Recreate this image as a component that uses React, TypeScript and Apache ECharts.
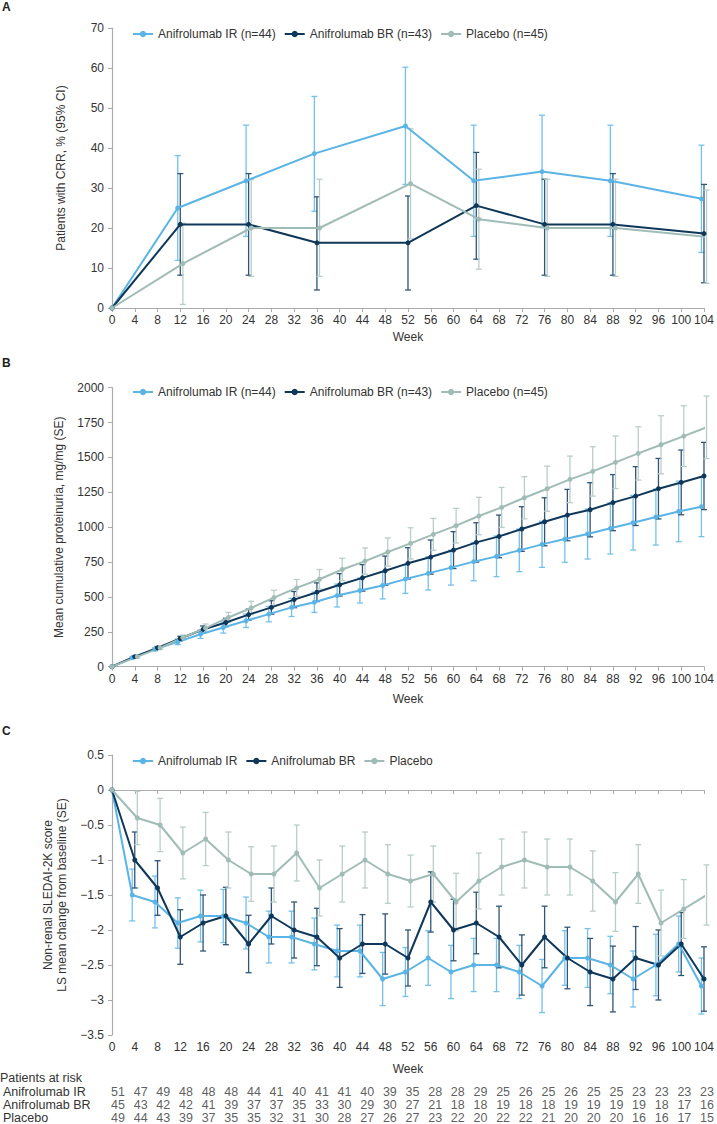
import React, { useEffect, useRef } from 'react';
import * as echarts from 'echarts';

// ---------- Panel A: CRR ----------
const weeksA = [0, 12, 24, 36, 52, 64, 76, 88, 104];
const crrIR = [0, 25.0, 31.8, 38.6, 45.5, 31.8, 34.1, 31.8, 27.3];
const crrIRlo = [0, 11.9, 17.9, 24.2, 30.9, 17.9, 20.1, 17.9, 13.9];
const crrIRhi = [0, 38.1, 45.7, 52.9, 60.2, 45.7, 48.2, 45.7, 40.7];
const crrBR = [0, 20.9, 20.9, 16.3, 16.3, 25.6, 20.9, 20.9, 18.6];
const crrBRlo = [0, 8.2, 8.2, 4.5, 4.5, 12.2, 8.2, 8.2, 6.3];
const crrBRhi = [0, 33.6, 33.6, 27.8, 28.0, 38.9, 32.2, 33.6, 30.9];
const crrPL = [0, 11.1, 20.0, 20.0, 31.1, 22.2, 20.0, 20.0, 17.8];
const crrPLlo = [0, 0.9, 7.9, 7.9, 17.3, 9.7, 7.9, 7.9, 6.2];
const crrPLhi = [0, 21.2, 32.1, 32.2, 44.8, 34.7, 32.2, 32.2, 29.5];

// ---------- Panels B & C: every 4 weeks ----------
const weeks = [0, 4, 8, 12, 16, 20, 24, 28, 32, 36, 40, 44, 48, 52, 56, 60, 64, 68, 72, 76, 80, 84, 88, 92, 96, 100, 104];

const protIR = [0, 65, 125, 178, 233, 281, 329, 377, 425, 462, 510, 546, 582, 628, 669, 710, 753, 791, 834, 877, 915, 951, 992, 1032, 1073, 1113, 1147];
const protIRse = [0, 6, 10, 20, 30, 40, 48, 55, 65, 73, 82, 90, 96, 102, 119, 125, 137, 146, 153, 165, 167, 179, 184, 196, 201, 217, 215];
const protBR = [0, 72, 135, 202, 267, 317, 373, 425, 481, 534, 587, 637, 688, 741, 786, 836, 891, 934, 987, 1039, 1087, 1125, 1176, 1223, 1276, 1321, 1367];
const protBRse = [0, 6, 10, 16, 25, 30, 40, 48, 58, 67, 80, 95, 105, 112, 122, 132, 141, 153, 160, 172, 184, 194, 201, 211, 217, 232, 241];
const protPL = [0, 72, 135, 209, 276, 353, 421, 495, 565, 627, 697, 757, 822, 884, 949, 1011, 1080, 1142, 1211, 1276, 1343, 1400, 1465, 1529, 1591, 1653, 1716];
const protPLse = [0, 6, 10, 18, 30, 36, 48, 53, 60, 70, 80, 94, 101, 112, 114, 124, 134, 143, 151, 162, 167, 177, 188, 191, 208, 218, 224];

const sledIR = [0, -1.5, -1.6, -1.9, -1.8, -1.8, -1.9, -2.1, -2.1, -2.2, -2.3, -2.3, -2.7, -2.6, -2.4, -2.6, -2.5, -2.5, -2.6, -2.8, -2.4, -2.4, -2.5, -2.7, -2.5, -2.2, -2.8];
const sledIRse = [0, 0.37, 0.37, 0.36, 0.37, 0.38, 0.37, 0.37, 0.37, 0.37, 0.37, 0.37, 0.38, 0.35, 0.39, 0.38, 0.38, 0.38, 0.38, 0.38, 0.39, 0.42, 0.41, 0.4, 0.44, 0.4, 0.4];
const sledBR = [0, -1.0, -1.4, -2.1, -1.9, -1.8, -2.2, -1.8, -2.0, -2.1, -2.4, -2.2, -2.2, -2.4, -1.6, -2.0, -1.9, -2.1, -2.5, -2.1, -2.4, -2.6, -2.7, -2.4, -2.5, -2.2, -2.7];
const sledBRse = [0, 0.4, 0.39, 0.39, 0.4, 0.41, 0.41, 0.4, 0.4, 0.41, 0.42, 0.42, 0.43, 0.4, 0.43, 0.44, 0.44, 0.44, 0.43, 0.44, 0.44, 0.48, 0.47, 0.45, 0.5, 0.45, 0.46];
const sledPL = [0, -0.4, -0.5, -0.9, -0.7, -1.0, -1.2, -1.2, -0.9, -1.4, -1.2, -1.0, -1.2, -1.3, -1.2, -1.6, -1.3, -1.1, -1.0, -1.1, -1.1, -1.3, -1.6, -1.2, -1.9, -1.7, -1.5];
const sledPLse = [0, 0.38, 0.38, 0.37, 0.38, 0.4, 0.39, 0.4, 0.4, 0.4, 0.4, 0.4, 0.42, 0.37, 0.4, 0.41, 0.4, 0.4, 0.4, 0.4, 0.4, 0.43, 0.42, 0.42, 0.47, 0.42, 0.43];

// ---------- Patients at risk ----------
const riskRows = ['Anifrolumab IR', 'Anifrolumab BR', 'Placebo'];
const riskIR = [51, 47, 49, 48, 48, 48, 44, 41, 40, 41, 41, 40, 39, 35, 28, 28, 29, 25, 26, 25, 26, 25, 25, 23, 23, 23, 23];
const riskBR = [45, 43, 42, 42, 41, 39, 37, 37, 35, 33, 30, 29, 30, 27, 21, 18, 18, 19, 18, 18, 19, 19, 19, 19, 18, 17, 16];
const riskPL = [49, 44, 43, 39, 37, 35, 35, 32, 31, 30, 28, 27, 26, 27, 23, 22, 20, 22, 22, 21, 20, 20, 20, 16, 16, 17, 15];

const namesAB = ['Anifrolumab IR (n=44)', 'Anifrolumab BR (n=43)', 'Placebo (n=45)'];
const namesC = ['Anifrolumab IR', 'Anifrolumab BR', 'Placebo'];

const COL = ['#5ab4e6', '#0f375a', '#a0bcb6'];
const ERRCOL = ['#74c1ec', '#2f5577', '#b9cec9'];
const OFF = [-0.45, 0, 0.45];
const FONT = 'Liberation Sans, Arial, sans-serif';
const AXC = '#a9adb0';
const TXT = '#333333';

const minus = (v: number) => String(v).replace('-', '\u2212');

function errRender(color: string) {
  return (params: any, api: any) => {
    const x = api.value(0), lo = api.value(1), hi = api.value(2);
    const a = api.coord([x, lo]);
    const b = api.coord([x, hi]);
    const cw = 3;
    const style = { stroke: color, lineWidth: 1.3 };
    return {
      type: 'group',
      children: [
        { type: 'line', shape: { x1: a[0], y1: a[1], x2: b[0], y2: b[1] }, style },
        { type: 'line', shape: { x1: a[0] - cw, y1: a[1], x2: a[0] + cw, y2: a[1] }, style },
        { type: 'line', shape: { x1: b[0] - cw, y1: b[1], x2: b[0] + cw, y2: b[1] }, style },
      ],
    };
  };
}

export default function App() {
  const ref = useRef<HTMLDivElement>(null);
  useEffect(() => {
    if (!ref.current) return;
    const chart = echarts.init(ref.current, undefined, { renderer: 'svg' });

    const gridDefs = [
      { left: 112, right: 10, top: 28, height: 280 },
      { left: 112, right: 10, top: 387.7, height: 279 },
      { left: 112, right: 10, top: 755, height: 280 },
      { left: 112, right: 10, top: 1085, height: 42 },
    ];

    const xBase = (gi: number, nameGap: number) => ({
      type: 'value', gridIndex: gi, min: 0, max: 104, interval: 4,
      name: 'Week', nameLocation: 'middle', nameGap,
      nameTextStyle: { color: TXT, fontSize: 12, fontFamily: FONT },
      axisLine: { lineStyle: { color: AXC, width: 1.2 } },
      axisTick: { show: true, length: 4, lineStyle: { color: AXC } },
      axisLabel: { color: TXT, fontSize: 12, fontFamily: FONT, margin: 6 },
      splitLine: { show: false },
    });
    const yBase = (gi: number, min: number, max: number, interval: number, name: string, nameGap: number, fmt: any) => ({
      type: 'value', gridIndex: gi, min, max, interval,
      name, nameLocation: 'middle', nameGap,
      nameTextStyle: { color: TXT, fontSize: 12, fontFamily: FONT, lineHeight: 14 },
      axisLine: { show: true, lineStyle: { color: AXC, width: 1.2 } },
      axisTick: { show: true, length: 4, lineStyle: { color: AXC } },
      axisLabel: { color: TXT, fontSize: 12, fontFamily: FONT, margin: 8, formatter: fmt },
      splitLine: { show: false },
    });

    const series: any[] = [];
    const addPanel = (gi: number, names: string[], wk: number[], means: number[][], lows: number[][], highs: number[][]) => {
      for (let s = 0; s < 3; s++) {
        const errData = wk
          .map((w, i) => [w + OFF[s], lows[s][i], highs[s][i]])
          .filter((_, i) => wk[i] !== 0);
        series.push({
          type: 'custom', name: 'err' + gi + '_' + s, xAxisIndex: gi, yAxisIndex: gi,
          renderItem: errRender(ERRCOL[s]), encode: { x: 0, y: [1, 2] }, data: errData, z: 2,
        });
      }
      for (let s = 0; s < 3; s++) {
        series.push({
          type: 'line', name: names[s], xAxisIndex: gi, yAxisIndex: gi,
          data: wk.map((w, i) => [w === 0 ? 0 : w + OFF[s], means[s][i]]),
          symbol: 'circle', symbolSize: 5, showSymbol: true,
          lineStyle: { color: COL[s], width: 2 }, itemStyle: { color: COL[s] },
          z: 3,
        });
      }
    };

    addPanel(0, namesAB, weeksA, [crrIR, crrBR, crrPL], [crrIRlo, crrBRlo, crrPLlo], [crrIRhi, crrBRhi, crrPLhi]);
    const pm = [protIR, protBR, protPL], ps = [protIRse, protBRse, protPLse];
    addPanel(1, namesAB, weeks, pm,
      pm.map((m, s) => m.map((v, i) => v - ps[s][i])),
      pm.map((m, s) => m.map((v, i) => v + ps[s][i])));
    const cm = [sledIR, sledBR, sledPL], cs = [sledIRse, sledBRse, sledPLse];
    addPanel(2, namesC, weeks, cm,
      cm.map((m, s) => m.map((v, i) => v - cs[s][i])),
      cm.map((m, s) => m.map((v, i) => v + cs[s][i])));

    // risk table
    const riskAll = [riskIR, riskBR, riskPL];
    series.push({
      type: 'scatter', name: 'risk', xAxisIndex: 3, yAxisIndex: 3,
      symbolSize: 1, itemStyle: { color: 'rgba(0,0,0,0)' },
      data: riskAll.flatMap((arr, r) => arr.map((n, i) => [weeks[i], riskRows[r], n])),
      label: {
        show: true, position: 'inside', color: TXT, fontSize: 12.5, fontFamily: FONT, lineHeight: 13,
        formatter: (p: any) => String(p.value[2]),
      },
      labelLayout: { hideOverlap: false },
      silent: true,
    });

    const legendBase = (top: number, data: string[]) => ({
      top, left: 127, itemWidth: 20, itemHeight: 8, itemGap: 8,
      textStyle: { color: TXT, fontSize: 12, fontFamily: FONT },
      data, selectedMode: false,
    });

    chart.setOption({
      animation: false,
      backgroundColor: '#ffffff',
      grid: gridDefs,
      xAxis: [
        xBase(0, 23),
        xBase(1, 26),
        xBase(2, 28),
        { type: 'value', gridIndex: 3, min: 0, max: 104, show: false },
      ],
      yAxis: [
        yBase(0, 0, 70, 10, 'Patients with CRR, % (95% CI)', 44, (v: number) => String(v)),
        yBase(1, 0, 2000, 250, 'Mean cumulative proteinuria, mg/mg (SE)', 44, (v: number) => String(v)),
        yBase(2, -3.5, 0.5, 0.5, 'Non-renal SLEDAI-2K score\nLS mean change from baseline (SE)', 40, (v: number) => minus(v)),
        {
          type: 'category', gridIndex: 3, data: riskRows, inverse: true,
          axisLine: { show: false }, axisTick: { show: false }, splitLine: { show: false },
          axisLabel: { show: true, interval: 0, align: 'left', margin: 115, color: TXT, fontSize: 12.5, fontFamily: FONT, lineHeight: 14 },
        },
      ],
      legend: [
        legendBase(23, namesAB),
        legendBase(381, namesAB),
        legendBase(750, namesC),
      ],
      graphic: [
        { type: 'text', left: 2, top: 1, style: { text: 'A', font: 'bold 12px Liberation Sans, Arial, sans-serif', fill: '#222' } },
        { type: 'text', left: 2, top: 357, style: { text: 'B', font: 'bold 12px Liberation Sans, Arial, sans-serif', fill: '#222' } },
        { type: 'text', left: 2, top: 725, style: { text: 'C', font: 'bold 12px Liberation Sans, Arial, sans-serif', fill: '#222' } },
        { type: 'text', left: 0, top: 1071, style: { text: 'Patients at risk', font: '12.5px Liberation Sans, Arial, sans-serif', fill: TXT } },
      ],
      series,
    });

    return () => chart.dispose();
  }, []);
  return <div ref={ref} style={{ position: 'absolute', left: 0, top: 0, width: 717, height: 1124 }} />;
}
